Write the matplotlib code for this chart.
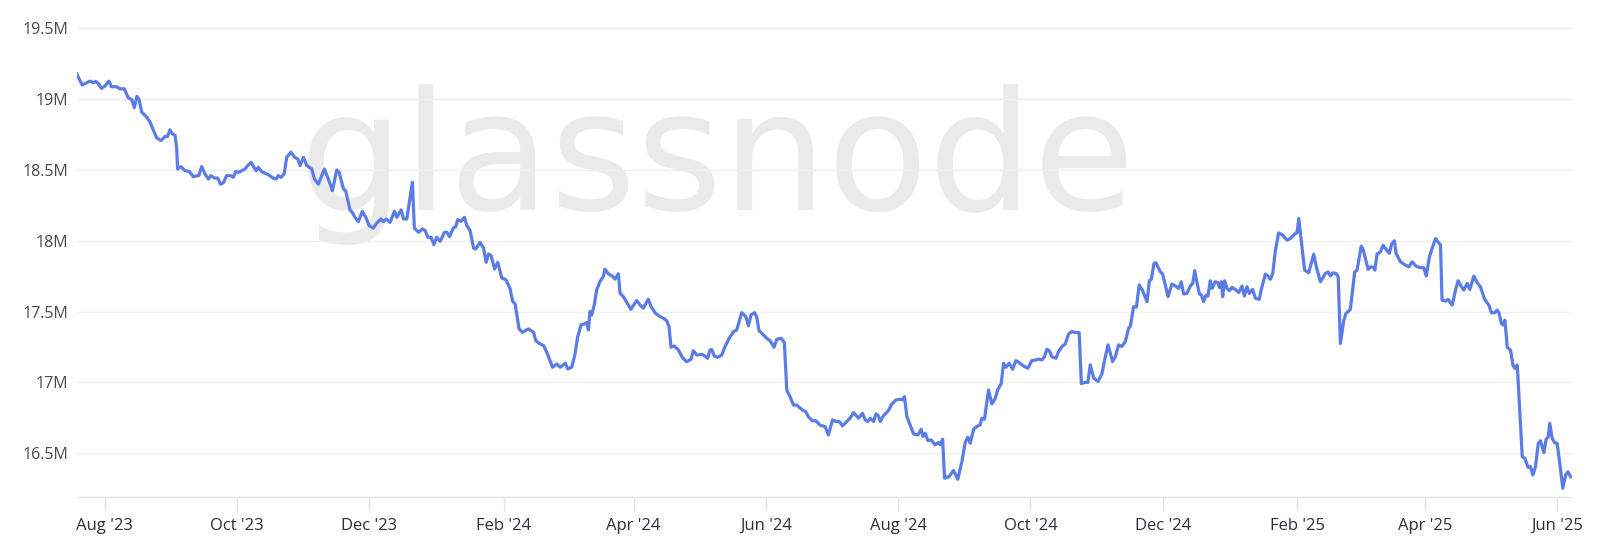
import matplotlib
matplotlib.use("Agg")
import matplotlib.pyplot as plt
import matplotlib.dates as mdates
import matplotlib.ticker as mticker
import numpy as np
import pandas as pd

# series: days since start, value in millions
start_date = "2023-07-19"
day_offset = [
    0.0, 2.6, 6.1, 7.7, 8.8, 10.0, 11.5, 13.0, 14.9, 16.1,
    18.5, 20.0, 22.0, 23.8, 25.4, 26.6, 27.8, 28.8, 30.0, 32.3,
    33.8, 36.9, 38.9, 40.8, 42.0, 43.0, 44.1, 45.4, 46.1, 46.6,
    48.1, 50.0, 52.0, 53.8, 56.4, 57.7, 59.2, 60.8, 61.8, 63.8,
    65.1, 66.4, 67.7, 69.2, 71.2, 72.3, 73.4, 74.6, 76.1, 77.7,
    78.9, 80.5, 81.8, 82.8, 83.8, 85.4, 88.4, 90.7, 92.0, 93.0,
    94.3, 95.8, 96.9, 98.9, 100.5, 102.0, 103.1, 104.6, 106.2, 108.5,
    109.7, 111.5, 114.3,
    116.1, 118.0, 120.0, 121.1, 123.1, 124.1, 126.1, 127.2, 128.4, 130.0,
    131.8, 133.4, 134.9, 136.9, 138.4, 140.4, 141.5, 142.8, 144.6, 146.6,
    147.7, 149.7, 150.8, 152.3, 154.9, 155.8, 157.7, 159.5, 160.8, 162.0,
    163.5, 164.8, 166.1, 167.7, 169.7, 170.8, 172.0, 173.8, 174.9, 175.8,
    177.4, 178.9, 180.0, 181.5, 183.1, 184.1, 186.1, 187.7, 188.9, 190.0,
    191.2, 192.8, 194.3, 196.1, 198.1, 200.0, 201.1, 202.3, 204.1, 205.7,
    208.4, 210.8, 211.8, 213.4, 215.4, 216.9, 219.5, 221.5, 223.1, 225.4,
    226.6, 228.4,
    229.9, 231.1, 232.7, 234.2, 235.3, 236.1, 236.8, 237.6, 238.8, 239.9,
    241.4, 243.0, 243.7, 245.3, 247.1, 248.4, 249.9, 250.7, 252.2, 254.2,
    255.7, 257.3, 258.4, 259.9, 261.4, 262.5, 263.7, 265.0, 267.1, 269.1,
    270.7, 272.2, 273.3, 274.2, 275.7, 277.6, 279.4, 281.4, 283.4, 284.5,
    286.1, 288.4, 289.9, 291.1, 292.2, 293.0, 294.2, 295.7, 297.6, 299.1,
    301.0, 303.0, 304.5, 305.6, 306.8, 308.7, 309.9, 311.1, 312.7, 313.7,
    314.8, 316.8, 318.4, 319.9, 321.7, 323.0, 325.0, 326.5, 327.6, 329.1,
    330.7, 332.2, 334.5, 336.4, 337.6, 339.4, 341.0, 343.0,
    345.3, 346.8, 348.7, 350.2, 351.8, 353.3, 355.3, 356.8, 358.4, 360.7,
    362.5, 363.8, 365.0, 366.1, 367.6, 368.8, 369.9, 370.7, 372.2, 374.5,
    375.8, 377.9, 379.9, 381.0, 381.9, 383.0, 384.5, 386.1, 388.1, 389.6,
    390.4, 391.5, 392.7, 394.2, 396.1, 397.6, 398.4, 399.5, 400.4, 402.5,
    404.5, 405.3, 406.5, 408.4, 409.9, 411.1, 412.2, 413.8, 415.3, 416.8,
    417.6, 418.8, 420.7, 422.2, 423.8, 425.0, 426.5, 427.6, 428.7, 430.2,
    431.8, 433.3, 434.8, 436.8, 438.8, 440.7, 442.5, 443.8, 445.3, 446.5,
    447.6, 448.7, 449.9, 451.8, 453.0, 454.5, 456.1, 457.6, 459.1,
    460.7, 462.5, 463.5, 465.0, 466.5, 467.6, 469.2, 471.2, 473.0, 474.2,
    475.8, 477.9, 479.2, 480.7, 482.2, 483.8, 485.3, 486.1, 487.6, 488.9,
    490.2, 491.5, 493.8, 494.9, 495.8, 497.0, 497.9, 499.9, 501.0, 502.2,
    503.5, 505.3, 506.9, 508.4, 509.6, 510.7, 512.2, 513.8, 514.9, 515.8,
    516.9, 518.0, 518.9, 519.9, 521.0, 521.9, 523.0, 523.8, 525.3, 526.5,
    527.2, 528.1, 528.7, 529.6, 530.7, 531.8, 533.0, 534.5, 536.1, 537.6,
    538.7, 539.9, 541.0, 542.5, 543.8, 545.6, 546.5, 548.4, 549.6, 550.7,
    551.8, 553.0, 554.5, 556.4, 558.4, 559.9, 562.2, 563.0, 563.8, 565.0,
    566.5, 568.4, 570.7, 571.8, 573.8,
    576.1, 577.3, 578.4, 579.5, 581.0, 582.0, 583.0, 584.6, 585.6, 587.6,
    589.6, 590.7, 592.6, 593.5, 595.8, 596.9, 598.4, 598.9, 599.9, 601.5,
    602.7, 604.1, 605.6, 606.6, 607.9, 608.7, 610.7, 612.3, 614.6, 616.1,
    617.9, 619.5, 621.5, 622.6, 624.1, 625.3, 626.9, 629.2, 629.9, 631.5,
    632.7, 634.6, 636.1, 637.3, 638.4, 639.9, 641.5, 642.7, 644.6, 646.1,
    647.6, 649.6, 651.5, 652.7, 654.2, 655.3, 656.1, 657.3, 658.1, 658.9,
    660.0, 661.5, 662.6, 663.5, 664.6, 666.9, 668.1, 669.6, 670.7, 671.8,
    673.0, 674.3, 675.3, 676.9, 677.9, 678.9, 679.6, 680.7, 681.9, 683.0,
    684.6, 685.6, 686.9, 688.0, 689.2,
]
supply_m = [
    19.178, 19.10, 19.128, 19.116, 19.126, 19.11, 19.076, 19.092, 19.128, 19.088,
    19.088, 19.073, 19.073, 19.01, 18.998, 18.94, 19.02, 18.998, 18.91, 18.874,
    18.84, 18.727, 18.708, 18.737, 18.737, 18.784, 18.756, 18.744, 18.66, 18.507,
    18.524, 18.495, 18.49, 18.453, 18.462, 18.524, 18.472, 18.436, 18.46, 18.443,
    18.443, 18.40, 18.41, 18.46, 18.46, 18.448, 18.49, 18.483, 18.495, 18.507,
    18.531, 18.554, 18.519, 18.495, 18.519, 18.488, 18.467, 18.443, 18.436, 18.46,
    18.448, 18.476, 18.59, 18.626, 18.59, 18.578, 18.531, 18.59, 18.531, 18.507,
    18.436, 18.40, 18.507,
    18.436, 18.354, 18.5, 18.484, 18.366, 18.354, 18.218, 18.20, 18.166, 18.135,
    18.208, 18.166, 18.107, 18.09, 18.124, 18.154, 18.135, 18.154, 18.13, 18.208,
    18.166, 18.218, 18.154, 18.154, 18.413, 18.09, 18.06, 18.084, 18.072, 18.025,
    18.025, 17.973, 18.025, 17.996, 18.06, 18.06, 18.029, 18.09, 18.10, 18.149,
    18.138, 18.166, 18.107, 18.072, 17.949, 17.942, 17.989, 17.949, 17.848, 17.907,
    17.895, 17.801, 17.848, 17.738, 17.724, 17.66, 17.573, 17.554, 17.378, 17.354,
    17.378, 17.354, 17.295, 17.276, 17.26, 17.213, 17.107, 17.13, 17.107, 17.135,
    17.095, 17.107,
    17.2, 17.318, 17.406, 17.413, 17.422, 17.37, 17.5, 17.476, 17.547, 17.653,
    17.712, 17.748, 17.80, 17.767, 17.752, 17.729, 17.767, 17.63, 17.606, 17.554,
    17.516, 17.554, 17.578, 17.547, 17.524, 17.554, 17.587, 17.535, 17.488, 17.465,
    17.453, 17.436, 17.394, 17.248, 17.257, 17.229, 17.177, 17.146, 17.163, 17.224,
    17.193, 17.198, 17.186, 17.17, 17.229, 17.233, 17.186, 17.177, 17.193, 17.252,
    17.311, 17.358, 17.37, 17.429, 17.493, 17.465, 17.399, 17.476, 17.493, 17.465,
    17.366, 17.335, 17.311, 17.295, 17.248, 17.304, 17.311, 17.281, 16.946, 16.899,
    16.84, 16.84, 16.809, 16.792, 16.757, 16.729, 16.729, 16.698,
    16.688, 16.629, 16.735, 16.724, 16.724, 16.693, 16.724, 16.747, 16.787, 16.747,
    16.782, 16.735, 16.724, 16.747, 16.724, 16.778, 16.764, 16.724, 16.764, 16.801,
    16.841, 16.876, 16.881, 16.876, 16.9, 16.759, 16.70, 16.636, 16.629, 16.669,
    16.618, 16.641, 16.589, 16.594, 16.559, 16.575, 16.559, 16.599, 16.324, 16.335,
    16.378, 16.355, 16.316, 16.441, 16.575, 16.613, 16.571, 16.669, 16.688, 16.70,
    16.747, 16.74, 16.947, 16.848, 16.888, 16.952, 16.989, 17.135, 17.107, 17.135,
    17.093, 17.154, 17.14, 17.116, 17.10, 17.154, 17.159, 17.164, 17.159, 17.182,
    17.234, 17.224, 17.182, 17.171, 17.218, 17.253, 17.272, 17.342, 17.359,
    17.352, 17.352, 16.991, 17.0, 17.0, 17.124, 17.031, 17.007, 17.061, 17.155,
    17.265, 17.148, 17.183, 17.265, 17.254, 17.289, 17.383, 17.394, 17.535, 17.531,
    17.688, 17.657, 17.57, 17.718, 17.728, 17.84, 17.845, 17.782, 17.765, 17.688,
    17.606, 17.695, 17.681, 17.664, 17.711, 17.624, 17.629, 17.681, 17.70, 17.789,
    17.70, 17.624, 17.617, 17.57, 17.617, 17.61, 17.718, 17.664, 17.711, 17.704,
    17.671, 17.711, 17.606, 17.718, 17.664, 17.648, 17.671, 17.657, 17.634, 17.681,
    17.61, 17.676, 17.629, 17.657, 17.594, 17.587, 17.657, 17.765, 17.751, 17.728,
    17.77, 17.93, 18.056, 18.04, 18.005, 18.016, 18.052, 18.056, 18.157, 17.993,
    17.793, 17.775, 17.906, 17.822, 17.711,
    17.769, 17.781, 17.751, 17.774, 17.769, 17.746, 17.275, 17.44, 17.487, 17.515,
    17.781, 17.793, 17.962, 17.939, 17.798, 17.816, 17.812, 17.793, 17.906, 17.922,
    17.969, 17.939, 17.911, 17.976, 18.0, 17.911, 17.852, 17.835, 17.816, 17.852,
    17.821, 17.812, 17.809, 17.751, 17.887, 17.946, 18.016, 17.969, 17.581, 17.574,
    17.586, 17.546, 17.652, 17.718, 17.687, 17.652, 17.699, 17.656, 17.751, 17.704,
    17.675, 17.586, 17.546, 17.492, 17.492, 17.511, 17.492, 17.416, 17.405, 17.44,
    17.247, 17.228, 17.122, 17.099, 17.122, 16.475, 16.464, 16.40, 16.405, 16.346,
    16.405, 16.569, 16.588, 16.504, 16.598, 16.616, 16.711, 16.605, 16.574, 16.569,
    16.381, 16.252, 16.346, 16.369, 16.334,
]
assert len(day_offset) == len(supply_m)

y_ticks = [16.5, 17, 17.5, 18, 18.5, 19, 19.5]
x_start, x_end = "2023-07-19", "2025-06-08"

dates = pd.Timestamp(start_date) + pd.to_timedelta(np.array(day_offset), unit="D")

plt.rcParams["font.family"] = ["Open Sans", "DejaVu Sans"]

fig = plt.figure(figsize=(16, 5.52), dpi=100)
ax = fig.add_axes([0.0479, 0.1002, 0.9348, 0.8853])
ax.set_facecolor("none")

# watermark
ax.text(0.448, 1 - 210 / 552, "glassnode", transform=fig.transFigure,
        ha="center", va="baseline", fontsize=119, color="#eaeaea",
        family="DejaVu Sans", zorder=0)

ax.plot(dates, supply_m, color="#5b7ce6", lw=2.3, zorder=3,
        solid_joinstyle="round")

ax.set_ylim(16.193, 19.644)
ax.set_xlim(pd.Timestamp(x_start), pd.Timestamp(x_end))

ax.set_yticks(y_ticks)
ax.yaxis.set_major_formatter(mticker.FuncFormatter(lambda v, p: f"{v:g}M"))
ax.grid(axis="y", color="#efefef", lw=1, zorder=1)
ax.tick_params(axis="y", length=0, pad=6, labelsize=11.5, labelcolor="#4a4a4a")

ax.xaxis.set_major_locator(mdates.MonthLocator(bymonth=[2, 4, 6, 8, 10, 12]))
ax.xaxis.set_major_formatter(mdates.DateFormatter("%b '%y"))
ax.tick_params(axis="x", length=10, width=1, color="#e3e3e3", pad=5,
               labelsize=12, labelcolor="#2b2f3a")

for s in ["top", "right", "left"]:
    ax.spines[s].set_visible(False)
ax.spines["bottom"].set_color("#e3e3e3")
ax.spines["bottom"].set_linewidth(1)

fig.savefig("out.png", dpi=100)
